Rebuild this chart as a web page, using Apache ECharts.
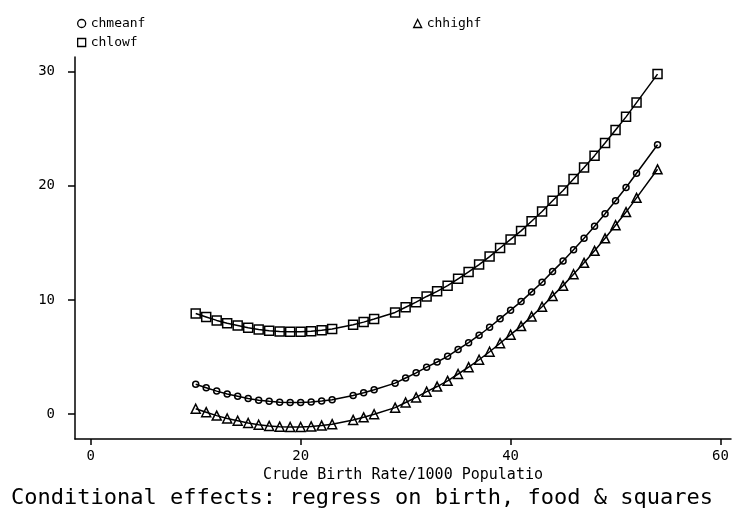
<!DOCTYPE html>
<html>
<head>
<meta charset="utf-8">
<script src="https://cdn.jsdelivr.net/npm/echarts@6/dist/echarts.min.js"></script>
<style>
  html, body { margin: 0; padding: 0; background: #fff; }
  #chart { width: 733px; height: 508px; }
</style>
</head>
<body>
<div id="chart"></div>
<script>
// birth rates at which the conditional effects were evaluated
const birth = [10, 11, 12, 13, 14, 15, 16, 17, 18, 19, 20, 21, 22, 23, 25, 26, 27, 29, 30, 31, 32,
  33, 34, 35, 36, 37, 38, 39, 40, 41, 42, 43, 44, 45, 46, 47, 48, 49, 50, 51, 52, 54];

const chmeanf = [2.6, 2.3, 2.0, 1.75, 1.55, 1.35, 1.2, 1.1, 1.03, 1.0, 1.0, 1.05, 1.13, 1.25, 1.62, 1.85, 2.12,
  2.7, 3.15, 3.6, 4.1, 4.55, 5.05, 5.65, 6.25, 6.9, 7.6, 8.35, 9.1, 9.85, 10.7, 11.55, 12.5, 13.4,
  14.4, 15.4, 16.45, 17.55, 18.7, 19.85, 21.1, 23.6];

const chlowf = [8.8, 8.5, 8.2, 7.95, 7.75, 7.55, 7.4, 7.3, 7.23, 7.2, 7.2, 7.25, 7.33, 7.45, 7.82, 8.05, 8.32,
  8.9, 9.35, 9.8, 10.3, 10.75, 11.25, 11.85, 12.45, 13.1, 13.8, 14.55, 15.3, 16.05, 16.9, 17.75, 18.7,
  19.6, 20.6, 21.6, 22.65, 23.75, 24.9, 26.05, 27.3, 29.8];

const chhighf = [0.45, 0.15, -0.15, -0.4, -0.6, -0.8, -0.95, -1.05, -1.12, -1.15, -1.15, -1.1, -1.02, -0.9,
  -0.53, -0.3, -0.03, 0.55, 1.0, 1.45, 1.95, 2.4, 2.9, 3.5, 4.1, 4.75, 5.45, 6.2, 6.95, 7.7, 8.55,
  9.4, 10.35, 11.25, 12.25, 13.25, 14.3, 15.4, 16.55, 17.7, 18.95, 21.45];

const xTicks = [0, 20, 40, 60];
const yTicks = [0, 10, 20, 30];

const FONT = 'DejaVu Sans Mono';

const pairs = (ys) => birth.map((x, i) => [x, ys[i]]);

const makeSeries = (name, ys, symbol, size) => ({
  name,
  type: 'line',
  data: pairs(ys),
  symbol,
  symbolSize: size,
  showAllSymbol: true,
  lineStyle: { color: '#000', width: 1.5 },
  itemStyle: { color: 'transparent', borderColor: '#000', borderWidth: 1.5 },
  emphasis: { disabled: true }
});

const legendText = { color: '#000', fontFamily: FONT, fontSize: 13 };
const legendItem = { color: 'transparent', borderColor: '#000', borderWidth: 1.3 };

const chart = echarts.init(document.getElementById('chart'));
chart.setOption({
  animation: false,
  backgroundColor: '#fff',
  title: {
    text: 'Conditional effects: regress on birth, food & squares',
    left: 6,
    top: 482,
    textStyle: { color: '#000', fontFamily: FONT, fontSize: 22, fontWeight: 'normal' }
  },
  legend: [
    {
      data: [
        { name: 'chmeanf', icon: 'circle' },
        { name: 'chlowf', icon: 'rect' }
      ],
      orient: 'vertical',
      left: 72,
      top: 12,
      itemWidth: 8,
      itemHeight: 8,
      itemGap: 6,
      itemStyle: legendItem,
      textStyle: legendText,
      selectedMode: false
    },
    {
      data: [{ name: 'chhighf', icon: 'triangle' }],
      left: 408,
      top: 12,
      itemWidth: 8,
      itemHeight: 8,
      itemStyle: legendItem,
      textStyle: legendText,
      selectedMode: false
    }
  ],
  grid: { left: 75, right: 2, top: 57, bottom: 69 },
  xAxis: {
    type: 'value',
    min: -1.5,
    max: 61,
    name: 'Crude Birth Rate/1000 Populatio',
    nameLocation: 'middle',
    nameGap: 28,
    nameTextStyle: { color: '#000', fontFamily: FONT, fontSize: 15 },
    axisLine: { show: true, onZero: false, lineStyle: { color: '#000', width: 1.5 } },
    axisTick: { show: true, inside: false, length: 6, customValues: xTicks, lineStyle: { color: '#000', width: 1.5 } },
    axisLabel: { customValues: xTicks, margin: 10, color: '#000', fontFamily: FONT, fontSize: 14 },
    splitLine: { show: false }
  },
  yAxis: {
    type: 'value',
    min: -2.2,
    max: 31.3,
    axisLine: { show: true, onZero: false, lineStyle: { color: '#000', width: 1.5 } },
    axisTick: { show: true, inside: false, length: 7, customValues: yTicks, lineStyle: { color: '#000', width: 1.5 } },
    axisLabel: { customValues: yTicks, margin: 20, color: '#000', fontFamily: FONT, fontSize: 14 },
    splitLine: { show: false }
  },
  series: [
    makeSeries('chmeanf', chmeanf, 'circle', 6),
    makeSeries('chlowf', chlowf, 'rect', 9),
    makeSeries('chhighf', chhighf, 'triangle', 9)
  ]
});
</script>
</body>
</html>
